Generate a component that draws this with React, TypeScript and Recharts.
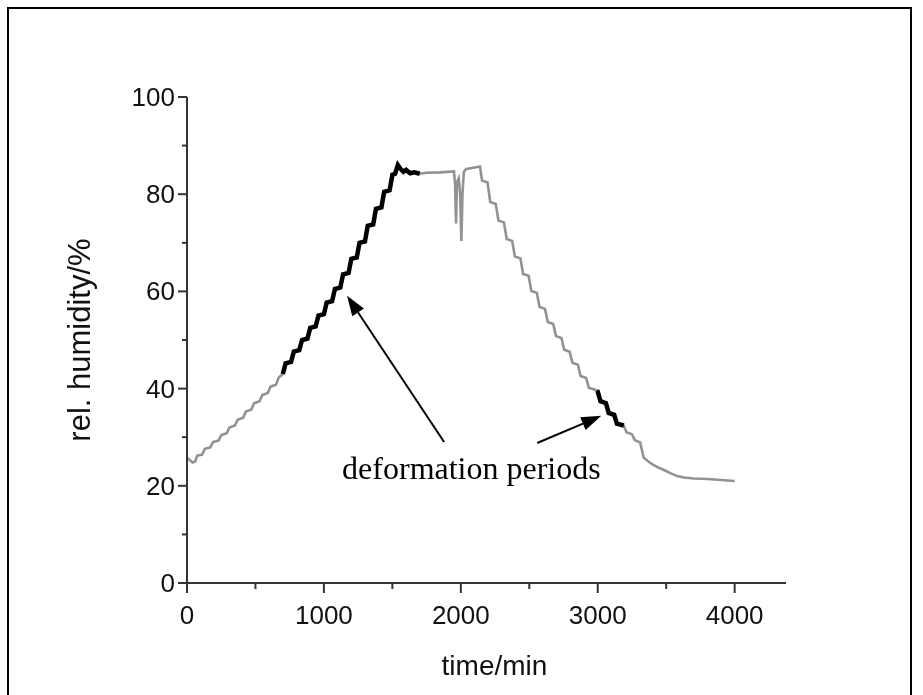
import React from 'react';
import { LineChart, Line, XAxis, YAxis, ReferenceLine, ReferenceDot } from 'recharts';

// time (min) and relative humidity (%)
const timeMin = [
  0, 40, 60, 75, 110, 130, 170, 190, 230, 250, 290, 310, 350, 370, 410, 430, 470, 490, 530, 550, 590, 610, 650, 670, 700,
  720, 760, 780, 820, 840, 880, 900, 940, 960, 1000, 1020, 1060, 1080, 1120, 1140, 1180, 1200, 1240, 1260, 1300, 1320,
  1360, 1380, 1420, 1440, 1480, 1500, 1520, 1540, 1560, 1580, 1600, 1630, 1660, 1700,
  1750, 1850, 1950, 1958, 1965, 1972, 1985, 1995, 2004, 2012, 2022, 2040, 2100, 2140,
  2155, 2195, 2215, 2255, 2275, 2315, 2335, 2375, 2395, 2435, 2455, 2495, 2515, 2555, 2575, 2615, 2635, 2675, 2695, 2735,
  2755, 2795, 2815, 2855, 2875, 2915, 2935, 2975, 2995,
  3000, 3020, 3060, 3080, 3120, 3140, 3190,
  3210, 3250, 3270, 3310, 3335, 3370, 3400, 3440, 3480, 3530, 3580, 3630, 3700, 3800, 3900, 4000,
];
const relHumidity = [
  25.8, 24.8, 25.0, 26.2, 26.4, 27.6, 27.9, 29.0, 29.3, 30.4, 30.8, 32.0, 32.4, 33.6, 34.0, 35.3, 35.7, 37.0, 37.4, 38.7, 39.1, 40.4, 40.8, 42.3, 43.0,
  45.2, 45.5, 47.6, 47.9, 50.0, 50.3, 52.5, 52.8, 55.0, 55.3, 57.7, 58.0, 60.5, 60.8, 63.5, 63.8, 66.7, 67.0, 70.0, 70.3, 73.5,
  73.8, 77.0, 77.3, 80.5, 80.8, 84.0, 84.2, 86.0, 85.2, 84.6, 85.0, 84.3, 84.5, 84.2,
  84.4, 84.5, 84.7, 82.0, 74.0, 82.5, 83.3, 80.0, 70.4, 80.0, 84.6, 85.2, 85.5, 85.7,
  82.8, 82.4, 78.4, 78.0, 74.6, 74.2, 70.8, 70.4, 67.2, 66.8, 63.6, 63.2, 60.1, 59.7, 56.8, 56.4, 53.7, 53.3, 50.8, 50.4,
  48.0, 47.6, 45.3, 44.9, 42.6, 42.2, 40.2, 39.8, 39.6,
  39.4, 37.4, 37.0, 35.0, 34.6, 32.8, 32.4,
  31.0, 30.6, 29.4, 28.9, 25.8, 25.0, 24.4, 23.8, 23.3, 22.6, 22.0, 21.7, 21.5, 21.4, 21.2, 21.0,
];
const deformationPeriods = [
  [700, 1700],
  [2995, 3190],
];
const xTicks = [0, 500, 1000, 1500, 2000, 2500, 3000, 3500, 4000];
const yTicks = [0, 10, 20, 30, 40, 50, 60, 70, 80, 90, 100];
const annotationText = 'deformation periods';
const arrows = [
  { from: { x: 1878, y: 29.0 }, to: { x: 1169, y: 59.1 } },
  { from: { x: 2558, y: 28.8 }, to: { x: 3026, y: 34.4 } },
];
const textAnchorPoint = { x: 1133, y: 21.4 };

const allData = timeMin.map((t, i) => ({ t, rh: relHumidity[i] }));
const deformationData = deformationPeriods.map(([a, b]) => allData.filter((d) => d.t >= a && d.t <= b));

const AXIS = '#333';
const SANS = '"Liberation Sans", Arial, Helvetica, sans-serif';
const SERIF = '"Liberation Serif", "Times New Roman", serif';

const XTick = (props: any) => {
  const { x, y, payload } = props;
  const major = payload.value % 1000 === 0;
  return (
    <g>
      <line x1={x} y1={y} x2={x} y2={y + (major ? 10 : 6)} stroke={AXIS} strokeWidth={2} />
      {major && (
        <text x={x} y={y + 41} textAnchor="middle" fontSize={26} fontFamily={SANS} fill="#111">
          {payload.value}
        </text>
      )}
    </g>
  );
};

const YTick = (props: any) => {
  const { x, y, payload } = props;
  const major = payload.value % 20 === 0;
  return (
    <g>
      <line x1={x} y1={y} x2={x - (major ? 9 : 5)} y2={y} stroke={AXIS} strokeWidth={2} />
      {major && (
        <text x={x - 12} y={y} textAnchor="end" dominantBaseline="central" fontSize={26} fontFamily={SANS} fill="#111">
          {payload.value}
        </text>
      )}
    </g>
  );
};

const ArrowShape = (props: any) => {
  const { x1, y1, x2, y2 } = props;
  const dx = x2 - x1;
  const dy = y2 - y1;
  const len = Math.sqrt(dx * dx + dy * dy) || 1;
  const ux = dx / len;
  const uy = dy / len;
  const headLen = 20;
  const headW = 7;
  const bx = x2 - ux * headLen;
  const by = y2 - uy * headLen;
  const p1 = `${x2},${y2}`;
  const p2 = `${bx - uy * headW},${by + ux * headW}`;
  const p3 = `${bx + uy * headW},${by - ux * headW}`;
  return (
    <g>
      <line x1={x1} y1={y1} x2={bx} y2={by} stroke="#000" strokeWidth={2} />
      <polygon points={`${p1} ${p2} ${p3}`} fill="#000" />
    </g>
  );
};

const TextShape = (props: any) => {
  const { cx, cy } = props;
  return (
    <text x={cx} y={cy} fontSize={32} fontFamily={SERIF} fill="#000">
      {annotationText}
    </text>
  );
};

export default function App() {
  return (
    <div style={{ position: 'relative', width: 905, height: 679 }}>
      <div
        style={{
          position: 'fixed',
          left: 7,
          top: 7,
          width: 905,
          height: 720,
          border: '2px solid #000',
          boxSizing: 'border-box',
          pointerEvents: 'none',
        }}
      />
      <LineChart width={905} height={687} margin={{ top: 89, right: 127, bottom: 0, left: 0 }}>
        <XAxis
          dataKey="t"
          type="number"
          domain={[0, 4375]}
          ticks={xTicks}
          interval={0}
          tickSize={0}
          tickMargin={0}
          tick={<XTick />}
          axisLine={{ stroke: AXIS, strokeWidth: 2 }}
          tickLine={false}
          height={112}
          allowDataOverflow
          label={{
            content: (p: any) => {
              const vb = p.viewBox;
              return (
                <text x={vb.x + vb.width / 2 + 8} y={vb.y + 92} textAnchor="middle" fontSize={28} fontFamily={SANS} fill="#111">
                  time/min
                </text>
              );
            },
          }}
        />
        <YAxis
          dataKey="rh"
          type="number"
          domain={[0, 100]}
          ticks={yTicks}
          interval={0}
          tickSize={0}
          tickMargin={0}
          tick={<YTick />}
          axisLine={{ stroke: AXIS, strokeWidth: 2 }}
          tickLine={false}
          width={179}
          allowDataOverflow
          label={{
            content: (p: any) => {
              const vb = p.viewBox;
              const cx = 71;
              const cy = vb.y + vb.height / 2;
              return (
                <text
                  x={cx}
                  y={cy}
                  transform={`rotate(-90, ${cx}, ${cy})`}
                  textAnchor="middle"
                  dominantBaseline="central"
                  fontSize={31}
                  fontFamily={SANS}
                  fill="#111"
                >
                  rel. humidity/%
                </text>
              );
            },
          }}
        />
        <Line
          data={allData}
          dataKey="rh"
          type="linear"
          stroke="#929292"
          strokeWidth={2.6}
          dot={false}
          isAnimationActive={false}
        />
        {deformationData.map((seg, i) => (
          <Line
            key={i}
            data={seg}
            dataKey="rh"
            type="linear"
            stroke="#000"
            strokeWidth={4.5}
            dot={false}
            isAnimationActive={false}
          />
        ))}
        {arrows.map((a, i) => (
          <ReferenceLine key={`a${i}`} segment={[a.from, a.to]} shape={ArrowShape} ifOverflow="visible" />
        ))}
        <ReferenceDot x={textAnchorPoint.x} y={textAnchorPoint.y} r={0} shape={TextShape} ifOverflow="visible" />
      </LineChart>
    </div>
  );
}
